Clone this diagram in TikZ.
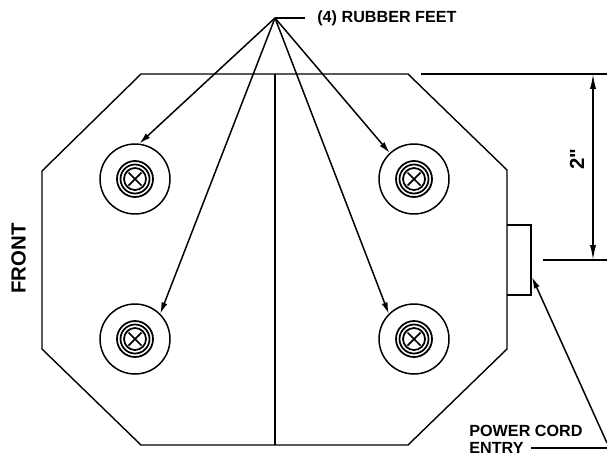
\documentclass[tikz,border=0pt]{standalone}
\usepackage{fontspec}
\setmainfont{Liberation Sans}
\newfontfamily\plainsans{Liberation Sans}
\usetikzlibrary{arrows.meta}

\begin{document}
\begin{tikzpicture}[x=0.02cm,y=-0.02cm]
    \tikzstyle{outline}=[line width=0.8pt,draw=black]
    \tikzstyle{thin line}=[line width=0.85pt,draw=black]
    \tikzstyle{screw line}=[line width=1pt,draw=black]
    \tikzstyle{leader}=[thin line,-{Latex[length=6.5pt,width=3.5pt]}]
    \tikzstyle{foot}=[circle,thin line,inner sep=0pt,minimum size=1.4cm]
    \tikzstyle{label}=[font=\bfseries\fontsize{9.2pt}{10pt}\selectfont,inner sep=0pt]
    \tikzstyle{big label}=[font=\bfseries\fontsize{11.6pt}{12pt}\selectfont,inner sep=0pt,rotate=90]
    \useasboundingbox (0,0) rectangle (607,460);
    % housing
    \draw[outline] (141,74) -- (408,74) -- (507,170) -- (507,349) -- (408,445)
      -- (141,445) -- (42,349) -- (42,171) -- cycle;
    \coordinate (topmid) at (275,74);
    \coordinate (botmid) at (275,445);
    \draw[outline] (topmid) -- (botmid);
    \draw[outline] (507,225) -- (531,225) -- (531,295) -- (507,295);
    % feet
    \foreach \name/\x/\y in {fa/135/179,fb/414/179,fc/135/339,fd/414/339} {
      \node[foot] (\name) at (\x,\y) {};
      \foreach \r in {18,14.5,11}
        \draw[screw line] (\x,\y) circle[radius=\r];
      \draw[screw line] (\x-6.5,\y-6.5) -- (\x+6.5,\y+6.5);
      \draw[screw line] (\x-6.5,\y+6.5) -- (\x+6.5,\y-6.5);
    }
    % leaders
    \coordinate (apex) at (275,18);
    \node[label,anchor=west] (feetlabel) at (317,18) {(4) RUBBER FEET};
    \coordinate (feetend) at (305,18);
    \draw[thin line] (apex) -- (feetend);
    \draw[leader] (apex) -- (fa.83);
    \draw[leader] (apex) -- (fb.133);
    \draw[leader] (apex) -- (fc.45);
    \draw[leader] (apex) -- (fd.135);
    % dimension
    \coordinate (dimtopl) at (421,74);
    \coordinate (dimtopr) at (607,74);
    \coordinate (dimbotl) at (543,260);
    \coordinate (dimbotr) at (607,260);
    \coordinate (dimtop) at (593,74);
    \coordinate (dimbot) at (593,260);
    \draw[thin line] (dimtopl) -- (dimtopr);
    \draw[thin line] (dimbotl) -- (dimbotr);
    \draw[thin line,{Latex[length=8.5pt,width=3.5pt]}-{Latex[length=8.5pt,width=3.5pt]}] (dimtop) -- (dimbot);
    \node[big label] (dimlabel) at (577,159) {\plainsans\bfseries 2"};
    % power cord
    \coordinate (cordend) at (607,443);
    \coordinate (cordright) at (607,448);
    \coordinate (cordtext) at (531,448);
    \coordinate (cordtip) at (532,277);
    \draw[thin line] (cordtext) -- (cordright);
    \draw[leader] (cordend) -- (cordtip);
    \node[label,anchor=west] (cordlabela) at (469,431) {POWER CORD};
    \node[label,anchor=west] (cordlabelb) at (469,448) {ENTRY};
    \node[big label] (frontlabel) at (18.5,258.5) {FRONT};
\end{tikzpicture}
\end{document}
